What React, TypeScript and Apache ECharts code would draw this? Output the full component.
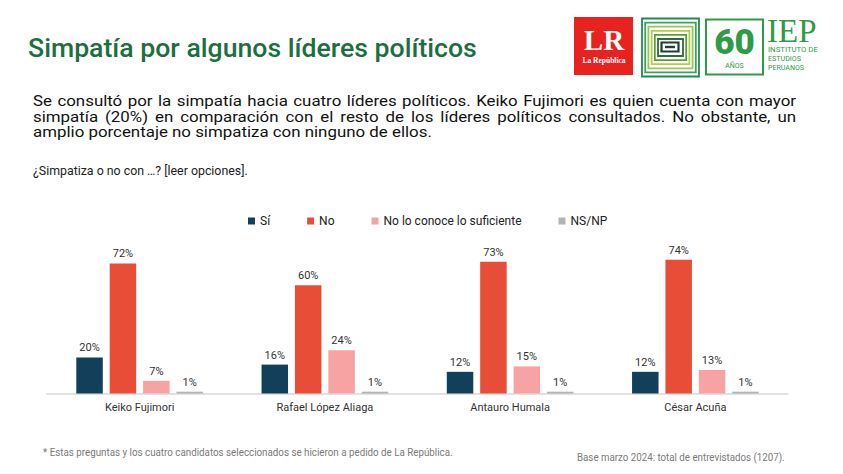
import React, { useEffect, useRef } from "react";
import * as echarts from "echarts";

const categories = ["Keiko Fujimori", "Rafael López Aliaga", "Antauro Humala", "César Acuña"];
const seriesNames = ["Sí", "No", "No lo conoce lo suficiente", "NS/NP"];
const siValues = [20, 16, 12, 12];
const noValues = [72, 60, 73, 74];
const noConoceValues = [7, 24, 15, 13];
const nsnpValues = [1, 1, 1, 1];
const seriesColors = ["#123f5a", "#e84e37", "#f7a3a3", "#b3b3b3"];

const titleText = "Simpatía por algunos líderes políticos";
const paragraphLines = [
  "Se consultó por la simpatía hacia cuatro líderes políticos. Keiko Fujimori es quien cuenta con mayor",
  "simpatía (20%) en comparación con el resto de los líderes políticos consultados. No obstante, un",
  "amplio porcentaje no simpatiza con ninguno de ellos.",
];
const questionText = "¿Simpatiza o no con …? [leer opciones].";
const footnoteLeft = "* Estas preguntas y los cuatro candidatos seleccionados se hicieron a pedido de La República.";
const footnoteRight = "Base marzo 2024: total de entrevistados (1207).";

const FONT = "Roboto";
const PARA_RENDER_FS = 15.2;

function measure(text: string, font: string): number {
  const c = document.createElement("canvas").getContext("2d");
  if (!c) return text.length * 8;
  c.font = font;
  return c.measureText(text).width;
}

function justifiedLine(text: string, x0: number, x1: number, y: number, fs: number, color: string) {
  const words = text.split(" ");
  const font = `${fs}px ${FONT}`;
  const renderFont = `${PARA_RENDER_FS}px ${FONT}`;
  const widths = words.map((w) => measure(w, font));
  const total = widths.reduce((a, b) => a + b, 0);
  const gap = words.length > 1 ? (x1 - x0 - total) / (words.length - 1) : 0;
  const els: any[] = [];
  let x = x0;
  words.forEach((w, i) => {
    const rw = measure(w, renderFont);
    els.push({
      type: "text",
      x,
      y,
      scaleX: widths[i] / rw,
      style: { text: w, fill: color, font: renderFont, textAlign: "left", textVerticalAlign: "middle" },
    });
    x += widths[i] + gap;
  });
  return els;
}

function fittedText(text: string, x: number, y: number, fs: number, targetW: number, color: string, weight = "normal", lh?: number) {
  const font = `${weight} ${fs}px ${FONT}`;
  const w = measure(text, font);
  const style: any = { text, fill: color, font, textAlign: "left", textVerticalAlign: "middle" };
  if (lh) style.lineHeight = lh;
  return { type: "text", x, y, scaleX: targetW / w, style };
}

export default function App() {
  const ref = useRef<HTMLDivElement>(null);

  useEffect(() => {
    document.body.style.margin = "0";
    if (!ref.current) return;
    const chart = echarts.init(ref.current, undefined, { renderer: "svg" });

    const titleFs = 26 * (449 / measure(titleText, `500 26px ${FONT}`));
    const paraFs = 16 * (399 / measure(paragraphLines[2], `16px ${FONT}`));

    const graphics: any[] = [];
    graphics.push({
      type: "text",
      x: 28,
      y: 47.8,
      style: { text: titleText, fill: "#1d6e40", font: `500 ${titleFs}px ${FONT}`, textAlign: "left", textVerticalAlign: "middle" },
    });
    graphics.push(...justifiedLine(paragraphLines[0], 33, 796, 100.7, paraFs, "#111"));
    graphics.push(...justifiedLine(paragraphLines[1], 33, 796, 116.3, paraFs, "#111"));
    graphics.push(fittedText(paragraphLines[2], 33, 131.9, PARA_RENDER_FS, 399, "#111"));
    graphics.push(fittedText(questionText, 33, 171.3, 12, 215, "#222"));
    graphics.push(fittedText(footnoteLeft, 43, 452, 10, 410, "#7a7a7a"));
    graphics.push(fittedText(footnoteRight, 577, 457, 10, 208, "#7a7a7a"));

    // LR logo
    graphics.push({ type: "rect", shape: { x: 574, y: 17, width: 59, height: 58 }, style: { fill: "#e8231f" } });
    graphics.push({
      type: "text",
      x: 604,
      y: 40,
      style: { text: "LR", fill: "#fff", font: `bold 29px "Liberation Serif"`, lineHeight: 22, textAlign: "center", textVerticalAlign: "middle" },
    });
    graphics.push({
      type: "text",
      x: 604,
      y: 60,
      style: { text: "La República", fill: "#fff", font: `bold 7.5px "Liberation Serif"`, lineHeight: 7, textAlign: "center", textVerticalAlign: "middle" },
    });

    // concentric logo
    const ringColors = ["#1f8a4c", "#3aa35a", "#95c65c", "#b3cc45", "#5d9a3f", "#2f6b3d"];
    ringColors.forEach((c, k) => {
      const ix = k * 3.2;
      const iy = k * 4.1;
      graphics.push({
        type: "rect",
        shape: { x: 642 + ix, y: 18.5 + iy, width: 57 - 2 * ix, height: 58 - 2 * iy },
        style: { fill: "none", stroke: c, lineWidth: 1.8 },
      });
    });
    graphics.push({
      type: "rect",
      shape: { x: 661.5, y: 42.5, width: 17, height: 9 },
      style: { fill: "#fff", stroke: "#1f3f33", lineWidth: 2.2 },
    });
    graphics.push({ type: "rect", shape: { x: 665, y: 45.8, width: 10, height: 2.4 }, style: { fill: "#1f3f33" } });

    // 60 años logo
    graphics.push({
      type: "rect",
      shape: { x: 706, y: 19.5, width: 57, height: 55 },
      style: { fill: "none", stroke: "#2e9b47", lineWidth: 2 },
    });
    graphics.push({
      type: "text",
      x: 734.5,
      y: 42.5,
      style: { text: "60", fill: "#2e9b47", font: `900 35px ${FONT}`, lineHeight: 26, textAlign: "center", textVerticalAlign: "middle" },
    });
    graphics.push({
      type: "text",
      x: 734.5,
      y: 65.5,
      style: { text: "AÑOS", fill: "#2e9b47", font: `7px ${FONT}`, lineHeight: 7, textAlign: "center", textVerticalAlign: "middle" },
    });

    // IEP text
    graphics.push({
      type: "text",
      x: 767,
      y: 31,
      style: { text: "IEP", fill: "#2e9b47", font: `33px "Liberation Serif"`, lineHeight: 24, textAlign: "left", textVerticalAlign: "middle" },
    });
    graphics.push(fittedText("INSTITUTO DE", 768, 49.5, 8, 50, "#2e9b47", "normal", 8));
    graphics.push(fittedText("ESTUDIOS", 768, 58.3, 8, 33, "#2e9b47", "normal", 8));
    graphics.push(fittedText("PERUANOS", 768, 67, 8, 36, "#2e9b47", "normal", 8));

    const dataSets = [siValues, noValues, noConoceValues, nsnpValues];

    chart.setOption({
      animation: false,
      textStyle: { fontFamily: FONT },
      legend: {
        data: seriesNames,
        left: 243,
        top: 210,
        icon: "rect",
        itemWidth: 7,
        itemHeight: 7,
        itemGap: 37,
        textStyle: { fontSize: 12, color: "#222", fontFamily: FONT },
      },
      grid: { left: 47, width: 741, top: 249, height: 144.5 },
      xAxis: {
        type: "category",
        data: categories,
        axisLine: { lineStyle: { color: "#d9d9d9", width: 1.5 } },
        axisTick: { show: false },
        axisLabel: { fontSize: 11, color: "#333", margin: 8, fontFamily: FONT },
      },
      yAxis: { type: "value", min: 0, max: 80, show: false, splitLine: { show: false } },
      series: seriesNames.map((name, i) => ({
        name,
        type: "bar",
        data: dataSets[i],
        barWidth: 26.5,
        barGap: "26%",
        itemStyle: { color: seriesColors[i] },
        label: {
          show: true,
          position: "top",
          distance: 4,
          formatter: "{c}%",
          fontSize: 11,
          color: "#333",
          fontFamily: FONT,
        },
      })),
      graphic: graphics,
    });

    return () => chart.dispose();
  }, []);

  return <div ref={ref} style={{ width: 843, height: 474 }} />;
}
